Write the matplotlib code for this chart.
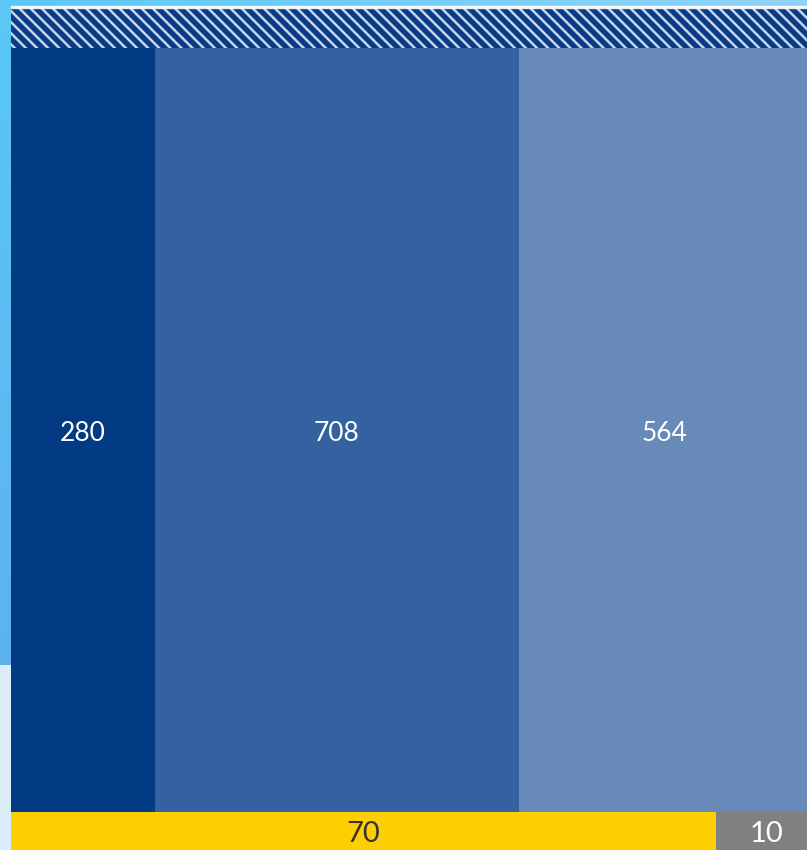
import numpy as np
import matplotlib
matplotlib.use("Agg")
import matplotlib.pyplot as plt
from matplotlib.colors import to_rgb
from matplotlib.patches import Rectangle

# values
top_values = [280, 708, 564]
top_colors = ['#023a84', '#3462a0', '#678ab9']
bottom_values = [70, 10]
bottom_colors = ['#fdce00', '#808080']
bottom_text = ['#333333', 'white']

plt.rcParams['hatch.linewidth'] = 1.8
plt.rcParams['font.family'] = ['Lato', 'DejaVu Sans']

W, H = 807, 850
fig = plt.figure(figsize=(W / 100, H / 100), dpi=100)

# background gradient (slide background behind the chart)
bg = fig.add_axes([0, 0, 1, 1])
rows = np.linspace(0, 1, H)[:, None]
c_top = np.array(to_rgb('#5ac8f6'))
c_mid = np.array(to_rgb('#5eb2ec'))
c_low = np.array(to_rgb('#dbedf8'))
grad = np.where(rows[..., None] < 665 / H,
                c_top + (c_mid - c_top) * (rows[..., None] / (665 / H)),
                c_low)
grad = np.repeat(grad, W, axis=1)
# lighten the top strip to the right
cols = np.linspace(0, 1, W)[None, :, None]
top_mask = (np.arange(H) < 8)[:, None, None]
grad = np.where(top_mask, grad + (np.array(to_rgb('#92d4f8')) - grad) * cols, grad)
bg.imshow(grad, aspect='auto', extent=[0, W, H, 0])
bg.set_xlim(0, W)
bg.set_ylim(H, 0)
bg.axis('off')

# thin white line above the hatched band
fig.patches.append(Rectangle((11 / W, (H - 8) / H), 1, 2 / H, transform=fig.transFigure,
                             color='white', alpha=0.85, zorder=1))

left = 11 / W

# hatched band on top
ax_top = fig.add_axes([left, (H - 48) / H, 1 - left, 40 / H])
ax_top.bar(0, 1, width=1, align='edge', color='#0a3c85', edgecolor='#c6d4ee',
           linewidth=0, hatch='\\\\\\')
ax_top.set_xlim(0, 1)
ax_top.set_ylim(0, 1)
ax_top.axis('off')

# main columns
ax = fig.add_axes([left, 38 / H, 798 / W, 764 / H])
starts = np.concatenate([[0], np.cumsum(top_values)[:-1]])
ax.bar(starts, [1] * len(top_values), width=top_values, align='edge',
       color=top_colors, linewidth=0)
for s, v in zip(starts, top_values):
    ax.text(s + v / 2, 0.495, str(v), ha='center', va='center',
            color='white', fontsize=19)
ax.set_xlim(0, sum(top_values))
ax.set_ylim(0, 1)
ax.axis('off')

# bottom band
ax_b = fig.add_axes([left, -2 / H, 806 / W, 40 / H])
bstarts = np.concatenate([[0], np.cumsum(bottom_values)[:-1]])
ax_b.bar(bstarts, [1] * len(bottom_values), width=bottom_values, align='edge',
         color=bottom_colors, linewidth=0)
for s, v, tc in zip(bstarts, bottom_values, bottom_text):
    ax_b.text(s + v / 2, 0.45, str(v), ha='center', va='center',
              color=tc, fontsize=21)
ax_b.set_xlim(0, sum(bottom_values))
ax_b.set_ylim(0, 1)
ax_b.axis('off')

fig.savefig('out.png', dpi=100)
